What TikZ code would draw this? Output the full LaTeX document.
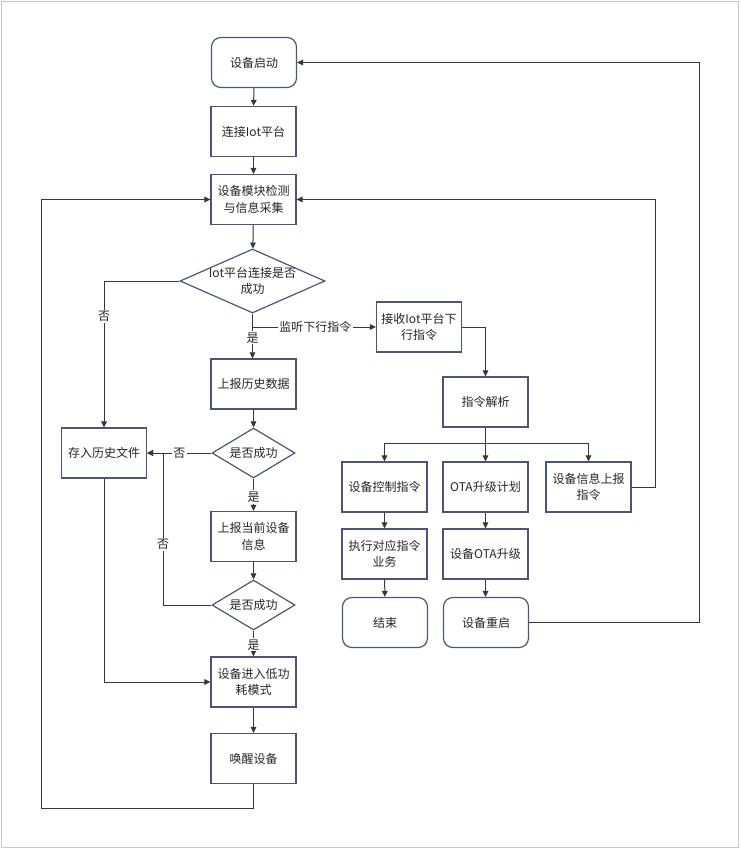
\documentclass[tikz,border=0pt]{standalone}
\usepackage{fontspec}
\setmainfont{Noto Sans CJK SC}
\usetikzlibrary{shapes.geometric,arrows.meta}
\definecolor{nodeborder}{RGB}{78,84,120}
\definecolor{linec}{RGB}{55,55,55}
\definecolor{framec}{RGB}{200,200,200}
\begin{document}
\begin{tikzpicture}[x=0.75pt,y=-0.75pt,
  txt/.style={font=\fontsize{9}{12.5}\selectfont, text=black!85},
  box/.style={txt, draw=nodeborder, line width=0.9pt, minimum width=63.75pt, minimum height=37.5pt, inner sep=0pt, align=center, fill=white},
  rbox/.style={box, rounded corners=7pt},
  dia/.style={diamond, draw=nodeborder, line width=0.9pt, inner sep=0pt, fill=white},
  conn/.style={draw=linec, line width=0.75pt, -{Triangle[length=4.5pt,width=4.2pt]}},
  plain/.style={draw=linec, line width=0.75pt},
  lab/.style={txt, fill=white, inner sep=1pt}
]
\useasboundingbox (0,0) rectangle (740,850);
\draw[framec, line width=1pt] (1.5,1.5) rectangle (738.5,847.5);

% left column
\node[rbox] (start) at (254,62.5) {设备启动};
\node[box] (conn1) at (253.5,131.5) {连接Iot平台};
\node[box] (detect) at (253.5,199.5) {设备模块检测\\与信息采集};
\node[dia, minimum width=108.75pt, minimum height=48pt] (d1) at (252.5,281) {};
\node[txt, align=center] (d1t) at (d1) {Iot平台连接是否\\成功};
\node[box] (hist) at (253.5,384) {上报历史数据};
\node[dia, minimum width=62.25pt, minimum height=37.5pt] (d2) at (253.5,453) {};
\node[txt] (d2t) at (d2) {是否成功};
\node[box] (cur) at (253.5,536.5) {上报当前设备\\信息};
\node[dia, minimum width=62.25pt, minimum height=37.5pt] (d3) at (253.5,605) {};
\node[txt] (d3t) at (d3) {是否成功};
\node[box] (low) at (253.5,682) {设备进入低功\\耗模式};
\node[box] (wake) at (253.5,758.5) {唤醒设备};
\node[box] (store) at (104,453) {存入历史文件};

% right part
\node[box] (recv) at (419,327) {接收Iot平台下\\行指令};
\node[box] (parse) at (485.5,402) {指令解析};
\node[box] (ctrl) at (384.5,487) {设备控制指令};
\node[box] (ota) at (485.5,487) {OTA升级计划};
\node[box] (info) at (588.5,487) {设备信息上报\\指令};
\node[box] (exec) at (384.5,554) {执行对应指令\\业务};
\node[box] (otaup) at (485.5,554) {设备OTA升级};
\node[rbox] (endn) at (385,622.5) {结束};
\node[rbox] (reboot) at (486,622.5) {设备重启};

\coordinate (br) at (252.5,327);
\coordinate (split) at (485.5,443);
\coordinate (j) at (163,453);
\coordinate (lb) at (41,808);

% connectors
\draw[conn] (start) -- (conn1);
\draw[conn] (conn1) -- (detect);
\draw[conn] (detect) -- (d1);
\draw[conn] (d1.west) -| (store.north) node[lab, pos=0.62] {否};
\draw[conn] (d1.south) -- (d1.south |- hist.north) node[lab, pos=0.54] {是};
\draw[conn] (br) -- (recv.west) node[lab, pos=0.51] {监听下行指令};
\draw[conn] (recv.east) -| (parse.north);
\draw[plain] (parse.south) -- (split);
\draw[conn] (split) -| (ctrl.north);
\draw[conn] (split) -- (ota.north);
\draw[conn] (split) -| (info.north);
\draw[conn] (info.east) -- ++(24,0) |- (detect.east);
\draw[conn] (ctrl) -- (exec);
\draw[conn] (exec) -- (endn);
\draw[conn] (ota) -- (otaup);
\draw[conn] (otaup) -- (otaup |- reboot.north);
\draw[conn] (reboot.east) -- ++(170,0) |- (start.east);
\draw[conn] (hist) -- (d2);
\draw[conn] (d2.west) -- (store.east) node[lab, midway] {否};
\draw[conn] (d2.south) -- (cur.north) node[lab, pos=0.57] {是};
\draw[conn] (cur) -- (d3);
\draw[conn] (d3.west) -| node[lab, pos=0.70] {否} (j) -- (store.east);
\draw[conn] (d3.south) -- (low.north) node[lab, pos=0.55] {是};
\draw[conn] (store.south) |- (low.west);
\draw[conn] (low) -- (wake);
\draw[conn] (wake.south) |- (lb) |- (detect.west);
\end{tikzpicture}
\end{document}
